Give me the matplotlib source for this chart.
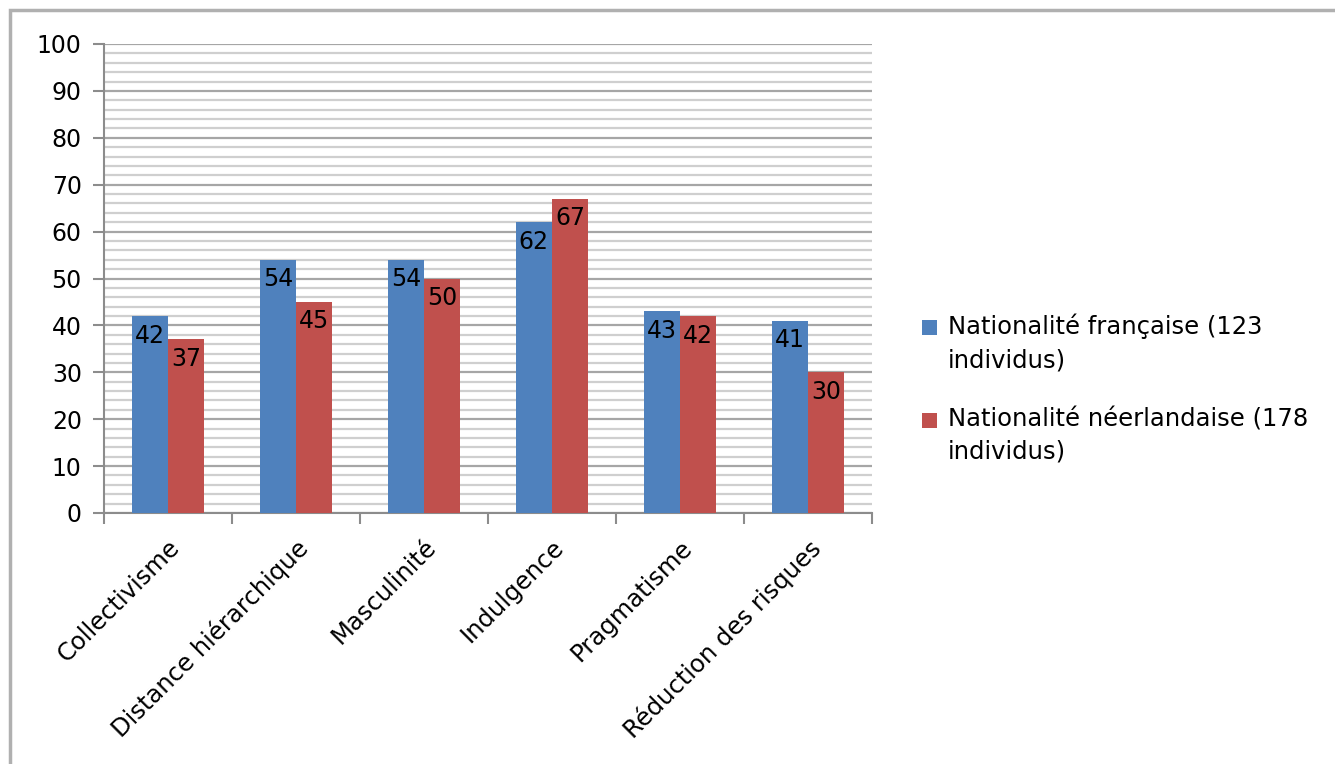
import numpy as np
import matplotlib.pyplot as plt
from matplotlib.patches import Rectangle
from matplotlib.ticker import MultipleLocator

categories = ['Collectivisme', 'Distance hiérarchique', 'Masculinité',
              'Indulgence', 'Pragmatisme', 'Réduction des risques']
francais = [42, 54, 54, 62, 43, 41]
neerlandais = [37, 45, 50, 67, 42, 30]
labels = ['Nationalité française (123\nindividus)',
          'Nationalité néerlandaise (178\nindividus)']
colors = ['#4f81bd', '#c0504d']

W, H = 1335, 764
fig = plt.figure(figsize=(W / 100, H / 100), dpi=100)
# cadre gris autour du graphique
fig.patches.append(Rectangle((10 / W, -0.1), 1.2, 1.1 - 10 / H,
                             transform=fig.transFigure, fill=False,
                             edgecolor='#b0b0b0', linewidth=2.5))

ax = fig.add_axes([104 / W, 1 - 513 / H, (872 - 104) / W, (513 - 44) / H])

x = np.arange(len(categories))
bw = 0.285
b1 = ax.bar(x - bw / 2, francais, bw, color=colors[0], zorder=3)
b2 = ax.bar(x + bw / 2, neerlandais, bw, color=colors[1], zorder=3)

for bars in (b1, b2):
    for r in bars:
        ax.text(r.get_x() + r.get_width() / 2, r.get_height() - 1.6,
                '%d' % r.get_height(), ha='center', va='top',
                fontsize=17, color='black', zorder=4)

ax.set_xlim(-0.5, len(categories) - 0.5)
ax.set_ylim(0, 100)
ax.yaxis.set_major_locator(MultipleLocator(10))
ax.yaxis.set_minor_locator(MultipleLocator(2))
ax.grid(which='major', axis='y', color='#a6a6a6', linewidth=1.6, zorder=0)
ax.grid(which='minor', axis='y', color='#cfcfcf', linewidth=1.6, zorder=0)
ax.tick_params(axis='y', which='minor', length=0)
ax.tick_params(axis='y', which='major', length=8, color='#8c8c8c', width=1.5,
               labelsize=17, pad=8)

ax.set_xticks(np.arange(len(categories) + 1) - 0.5)
ax.set_xticklabels([])
ax.set_xticks(x, minor=True)
ax.set_xticklabels(categories, minor=True, rotation=45, ha='right',
                   rotation_mode='anchor', fontsize=17.5)
ax.tick_params(axis='x', which='major', length=8, color='#8c8c8c', width=1.5)
ax.tick_params(axis='x', which='minor', length=0, pad=16)

for s in ['top', 'right']:
    ax.spines[s].set_visible(False)
for s in ['left', 'bottom']:
    ax.spines[s].set_color('#8c8c8c')
    ax.spines[s].set_linewidth(1.5)

# légende dessinée à la main (carré aligné sur la première ligne)
leg_y = [327, 420]
for i in range(len(labels)):
    y = leg_y[i]
    fig.patches.append(Rectangle((922 / W, 1 - (y + 8) / H), 15 / W, 15 / H,
                                 transform=fig.transFigure,
                                 facecolor=colors[i], edgecolor='none'))
    fig.text(948 / W, 1 - (y - 13) / H, labels[i], fontsize=17.5,
             ha='left', va='top', linespacing=1.45)

plt.savefig('out.png', dpi=100)
